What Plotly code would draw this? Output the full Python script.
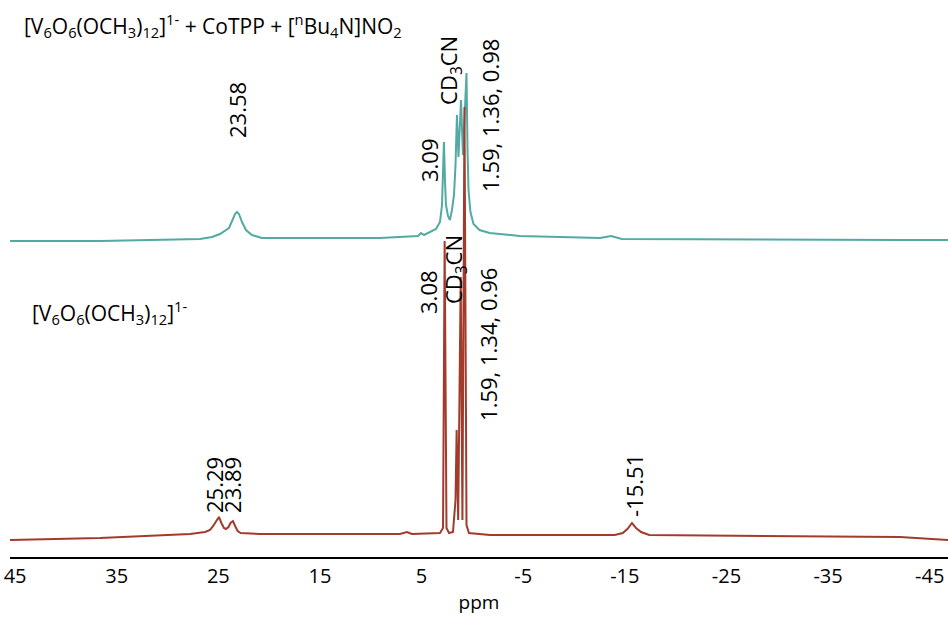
import plotly.graph_objects as go

# ---- data ----
# bottom spectrum: [V6O6(OCH3)12]1-
bot_ppm = [45.5, 36.64, 27.79, 26.3, 25.82, 25.5, 25.2, 24.94, 24.7, 24.45, 24.25, 24.0, 23.8,
           23.56, 23.35, 23.1, 22.8, 20.90, 7.13, 6.6, 6.44, 6.2, 5.94, 3.19, 2.89, 2.73, 2.55,
           2.30, 1.91, 1.66, 1.55, 1.40, 1.15, 0.98, 0.78, 0.58, 0.34, -1.73, -14.0, -14.8,
           -15.25, -15.70, -16.1, -16.6, -17.4, -42.07, -46.8]
bot_int = [0, 2, 6, 8, 10, 14, 19, 23, 17, 12, 11, 13, 17,
           19, 14, 9, 7, 6, 6, 7, 8, 7, 6, 7, 12, 299, 12,
           7, 8, 40, 110, 20, 263, 20, 433, 15, 7, 5, 5, 7,
           11, 17, 12, 8, 5, 3, 0]

# top spectrum: [V6O6(OCH3)12]1- + CoTPP + [nBu4N]NO2
top_ppm = [45.5, 36.64, 26.80, 25.62, 24.84, 24.35, 23.95, 23.65, 23.36, 23.16, 22.97, 22.67,
           22.28, 21.69, 20.71, 9.09, 5.35, 5.06, 4.76, 3.58, 3.19, 2.99, 2.89, 2.80, 2.70,
           2.60, 2.40, 2.21, 2.01, 1.81, 1.66, 1.52, 1.37, 1.22, 1.12, 0.93, 0.73, 0.58,
           0.48, 0.38, 0.19, -0.11, -0.70, -1.69, -4.68, -12.55, -13.64, -14.72, -42.07, -46.8]
top_int = [-1, -1, 1, 3, 6, 9, 12, 19, 26, 28, 26, 18,
           10, 5, 2, 2, 4, 7, 5, 11, 18, 35, 60, 98, 60,
           35, 24, 20, 30, 45, 75, 125, 83, 118, 140, 85, 130, 167,
           90, 50, 28, 16, 10, 7, 4, 2, 4, 1, 0, 0]
TOP_OFFSET = 300

tick_vals = [45, 35, 25, 15, 5, -5, -15, -25, -35, -45]
tick_text = ["45", "35", "25", "15", "5", "-5", "-15", "-25", "-35", "-45"]

# peak labels: (text, ppm, height)
top_labels = [("23.58", 23.16, 430), ("3.09", 4.27, 380), ("CD<sub>3</sub>CN", 2.21, 470),
              ("1.59, 1.36, 0.98", -1.73, 425)]
bot_labels = [("3.08", 4.37, 248), ("CD<sub>3</sub>CN", 1.71, 270),
              ("1.59, 1.34, 0.96", -1.53, 196), ("25.29", 25.43, 55),
              ("23.89", 23.66, 55), ("-15.51", -15.9, 55)]

FONT = "Open Sans"
TEAL = "#52aaa2"
RED = "#a33b2c"

fig = go.Figure()
fig.add_trace(go.Scatter(x=top_ppm, y=[v + TOP_OFFSET for v in top_int], mode="lines",
                         line=dict(color=TEAL, width=2), hoverinfo="skip", showlegend=False))
fig.add_trace(go.Scatter(x=bot_ppm, y=bot_int, mode="lines",
                         line=dict(color=RED, width=2), hoverinfo="skip", showlegend=False))

for txt, xp, yp in top_labels + bot_labels:
    fig.add_annotation(x=xp, y=yp, xref="x", yref="y", text=txt, textangle=-90,
                       showarrow=False, xanchor="center", yanchor="middle",
                       font=dict(family=FONT, size=22, color="black"))

fig.add_annotation(x=0.0128, y=515, xref="paper", yref="y",
                   text="[V<sub>6</sub>O<sub>6</sub>(OCH<sub>3</sub>)<sub>12</sub>]<sup>1-</sup> + CoTPP + [<sup>n</sup>Bu<sub>4</sub>N]NO<sub>2</sub>",
                   showarrow=False, xanchor="left", yanchor="middle",
                   font=dict(family=FONT, size=21, color="black"))
fig.add_annotation(x=0.021, y=228, xref="paper", yref="y",
                   text="[V<sub>6</sub>O<sub>6</sub>(OCH<sub>3</sub>)<sub>12</sub>]<sup>1-</sup>",
                   showarrow=False, xanchor="left", yanchor="middle",
                   font=dict(family=FONT, size=21, color="black"))

fig.update_layout(
    width=948, height=618,
    margin=dict(l=10, r=0, t=0, b=61),
    paper_bgcolor="white", plot_bgcolor="white",
    font=dict(family=FONT, size=20, color="black"),
    xaxis=dict(range=[45.5, -46.8], tickmode="array", tickvals=tick_vals, ticktext=tick_text,
               showline=True, linecolor="black", linewidth=1.5, ticks="", showgrid=False,
               zeroline=False, tickfont=dict(family=FONT, size=20, color="black"),
               title=dict(text="ppm", font=dict(family=FONT, size=19, color="black"), standoff=8)),
    yaxis=dict(range=[-17, 540], visible=False, showgrid=False, zeroline=False),
)

fig.write_html("out.html")
